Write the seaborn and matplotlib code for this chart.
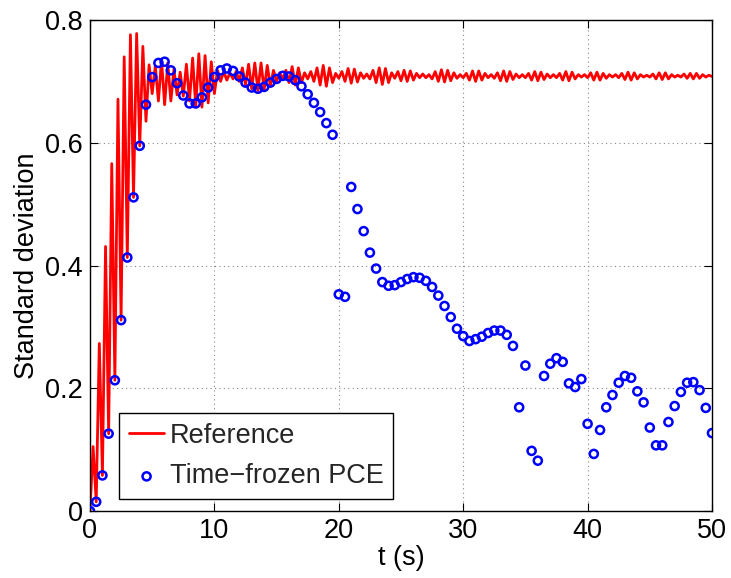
import numpy as np
import pandas as pd
import matplotlib
matplotlib.use("Agg")
import matplotlib.pyplot as plt
import seaborn as sns

# ---- data -------------------------------------------------------------
# Reference: successive extrema of the oscillating curve, every 0.25 s (t = 0 ... 50)
reference_std = [
    0.000, 0.105, 0.015, 0.273,  # t=0
    0.058, 0.431, 0.126, 0.566,  # t=1
    0.213, 0.671, 0.311, 0.740,  # t=2
    0.413, 0.776, 0.511, 0.778,  # t=3
    0.595, 0.757, 0.635, 0.727,  # t=4
    0.680, 0.725, 0.668, 0.735,  # t=5
    0.662, 0.730, 0.668, 0.720,  # t=6
    0.678, 0.715, 0.676, 0.728,  # t=7
    0.668, 0.738, 0.660, 0.745,  # t=8
    0.658, 0.742, 0.665, 0.732,  # t=9
    0.680, 0.718, 0.700, 0.716,  # t=10
    0.702, 0.714, 0.704, 0.716,  # t=11
    0.700, 0.722, 0.694, 0.728,  # t=12
    0.688, 0.730, 0.685, 0.730,  # t=13
    0.686, 0.726, 0.692, 0.718,  # t=14
    0.700, 0.714, 0.704, 0.718,  # t=15
    0.698, 0.724, 0.694, 0.722,  # t=16
    0.698, 0.714, 0.704, 0.716,  # t=17
    0.700, 0.722, 0.694, 0.726,  # t=18
    0.692, 0.722, 0.698, 0.713,  # t=19
    0.705, 0.716, 0.700, 0.721,  # t=20
    0.697, 0.720, 0.699, 0.714,  # t=21
    0.705, 0.712, 0.704, 0.718,  # t=22
    0.698, 0.722, 0.695, 0.721,  # t=23
    0.698, 0.714, 0.705, 0.716,  # t=24
    0.701, 0.718, 0.700, 0.717,  # t=25
    0.702, 0.713, 0.706, 0.712,  # t=26
    0.706, 0.711, 0.704, 0.716,  # t=27
    0.700, 0.719, 0.699, 0.718,  # t=28
    0.701, 0.714, 0.705, 0.711,  # t=29
    0.706, 0.713, 0.702, 0.717,  # t=30
    0.700, 0.717, 0.702, 0.713,  # t=31
    0.706, 0.711, 0.705, 0.714,  # t=32
    0.701, 0.717, 0.700, 0.716,  # t=33
    0.703, 0.712, 0.706, 0.711,  # t=34
    0.706, 0.713, 0.702, 0.716,  # t=35
    0.701, 0.715, 0.703, 0.712,  # t=36
    0.706, 0.711, 0.706, 0.713,  # t=37
    0.702, 0.716, 0.701, 0.715,  # t=38
    0.704, 0.711, 0.707, 0.711,  # t=39
    0.706, 0.714, 0.702, 0.715,  # t=40
    0.702, 0.713, 0.705, 0.711,  # t=41
    0.707, 0.711, 0.706, 0.713,  # t=42
    0.703, 0.715, 0.702, 0.714,  # t=43
    0.704, 0.711, 0.707, 0.710,  # t=44
    0.707, 0.712, 0.704, 0.714,  # t=45
    0.703, 0.714, 0.704, 0.711,  # t=46
    0.707, 0.710, 0.707, 0.712,  # t=47
    0.705, 0.713, 0.704, 0.713,  # t=48
    0.705, 0.711, 0.707, 0.710,  # t=49
    0.708,                       # t=50
]
reference_t = np.linspace(0, 50, len(reference_std))

# Time-frozen PCE: one value every 0.5 s (t = 0 ... 50)
pce_std = [
    0.000, 0.015, 0.058, 0.126, 0.213, 0.311, 0.413, 0.511, 0.595, 0.662,
    0.707, 0.730, 0.732, 0.718, 0.697, 0.677, 0.664, 0.664, 0.674, 0.690,
    0.707, 0.718, 0.721, 0.717, 0.708, 0.698, 0.690, 0.688, 0.691, 0.698,
    0.704, 0.709, 0.708, 0.702, 0.692, 0.679, 0.665, 0.650, 0.632, 0.613,
    0.353, 0.349, 0.528, 0.492, 0.456, 0.421, 0.395, 0.373, 0.367, 0.368,
    0.373, 0.378, 0.381, 0.380, 0.375, 0.365, 0.351, 0.334, 0.316, 0.297,
    0.285, 0.277, 0.280, 0.284, 0.290, 0.294, 0.294, 0.287, 0.269, 0.169,
    0.237, 0.098, 0.082, 0.220, 0.240, 0.249, 0.243, 0.208, 0.202, 0.215,
    0.142, 0.093, 0.132, 0.169, 0.189, 0.209, 0.220, 0.217, 0.195, 0.177,
    0.136, 0.107, 0.107, 0.145, 0.171, 0.194, 0.209, 0.210, 0.197, 0.168,
    0.127,
]
pce_t = np.linspace(0, 50, len(pce_std))

x_ticks = [0, 10, 20, 30, 40, 50]
y_ticks = [0, 0.2, 0.4, 0.6, 0.8]
y_tick_labels = ["0", "0.2", "0.4", "0.6", "0.8"]

# ---- plot ---------------------------------------------------------------
sns.set_theme(style="white")
plt.rcParams["font.family"] = ["Liberation Sans", "DejaVu Sans"]

FS = 19.5

fig = plt.figure(figsize=(7.31, 5.78), dpi=100)
ax = fig.add_axes([0.1231, 0.1159, 0.8509, 0.8495])

ref_df = pd.DataFrame({"t": reference_t, "std": reference_std})
pce_df = pd.DataFrame({"t": pce_t, "std": pce_std})

sns.lineplot(data=ref_df, x="t", y="std", ax=ax, color="#ff0000",
             linewidth=2.0, sort=False, estimator=None, label="Reference",
             zorder=2)
sns.scatterplot(data=pce_df, x="t", y="std", ax=ax, marker="o", s=34,
                facecolors="none", edgecolor="#0000ff", linewidth=1.8,
                label="Time\u2212frozen PCE", zorder=3)

ax.set_xlim(0, 50)
ax.set_ylim(0, 0.8)
ax.set_xticks(x_ticks)
ax.set_xticklabels([str(v) for v in x_ticks])
ax.set_yticks(y_ticks)
ax.set_yticklabels(y_tick_labels)

ax.grid(True, linestyle=(0, (1, 3)), color="#888888", linewidth=0.8)
ax.set_axisbelow(True)
for s in ax.spines.values():
    s.set_visible(True)
    s.set_color("black")
    s.set_linewidth(1.0)

ax.tick_params(axis="both", which="both", direction="in", length=6,
               width=0.8, labelsize=FS, colors="black",
               top=True, right=True, bottom=True, left=True, pad=5)

ax.set_xlabel("t (s)", fontsize=FS, color="black", labelpad=1)
ax.set_ylabel("Standard deviation", fontsize=FS, color="black", labelpad=4)

leg = ax.legend(loc="lower left", bbox_to_anchor=(0.047, 0.024),
                fontsize=FS, frameon=True, fancybox=False, framealpha=1,
                edgecolor="black", handlelength=1.3, handletextpad=0.2,
                borderpad=0.36, labelspacing=0.55, borderaxespad=0)
leg.get_frame().set_linewidth(1.0)

fig.savefig("out.png", dpi=100)
